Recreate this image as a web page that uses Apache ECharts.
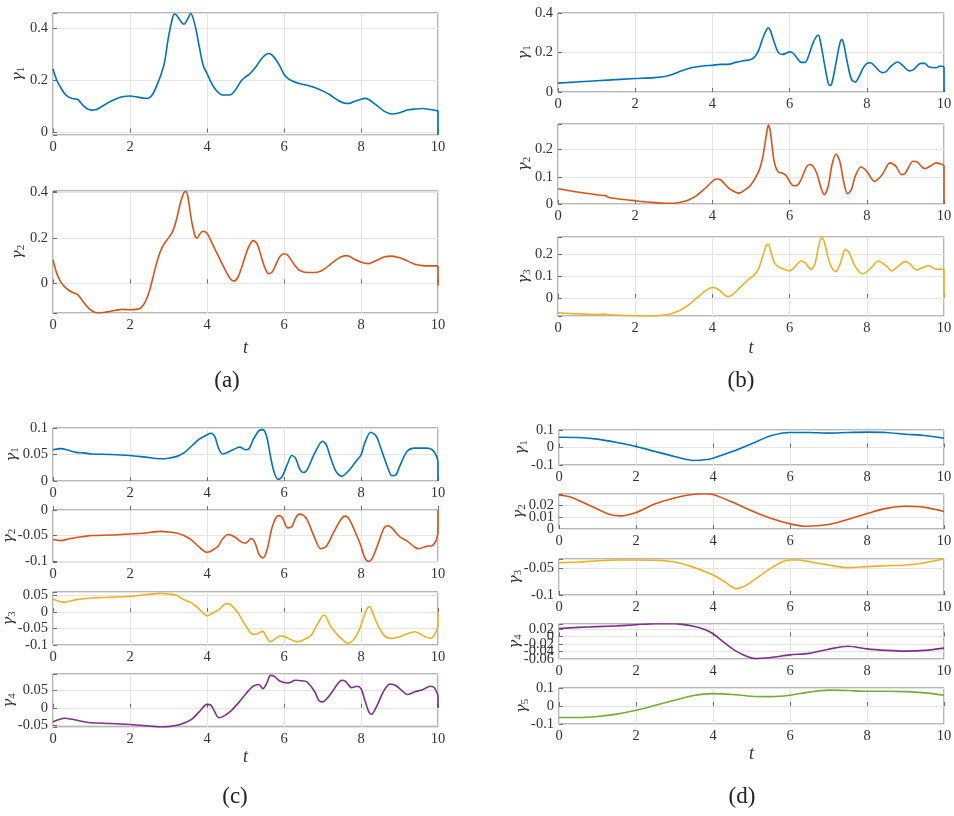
<!DOCTYPE html>
<html><head><meta charset="utf-8">
<script src="https://cdn.jsdelivr.net/npm/echarts@6/dist/echarts.min.js"></script>
<style>html,body{margin:0;padding:0;background:#fff}#c{width:954px;height:816px}</style>
</head><body><div id="c"></div>
<script>
// ---------- data: [t, gamma] pairs ----------
// Panel (a)
const a1 = [[0,0.244],[0.1,0.20],[0.2,0.173],[0.3,0.15],[0.4,0.137],[0.5,0.131],[0.6,0.128],[0.65,0.127],[0.7,0.118],[0.8,0.101],[0.9,0.090],[1.0,0.086],[1.1,0.087],[1.2,0.094],[1.4,0.112],[1.6,0.127],[1.8,0.137],[2.0,0.14],[2.2,0.136],[2.4,0.131],[2.5,0.133],[2.6,0.15],[2.7,0.182],[2.8,0.22],[2.9,0.272],[3.0,0.368],[3.1,0.438],[3.15,0.456],[3.2,0.453],[3.3,0.432],[3.4,0.417],[3.5,0.438],[3.58,0.458],[3.7,0.406],[3.8,0.33],[3.9,0.259],[4.0,0.227],[4.1,0.195],[4.2,0.169],[4.3,0.153],[4.4,0.144],[4.6,0.144],[4.7,0.156],[4.8,0.178],[4.9,0.201],[5.0,0.214],[5.1,0.224],[5.2,0.24],[5.3,0.259],[5.4,0.281],[5.5,0.297],[5.6,0.304],[5.7,0.297],[5.8,0.278],[5.9,0.253],[6.0,0.224],[6.1,0.208],[6.2,0.199],[6.4,0.188],[6.6,0.182],[6.8,0.173],[7.0,0.16],[7.2,0.144],[7.4,0.124],[7.6,0.112],[7.7,0.112],[7.8,0.118],[8.0,0.128],[8.1,0.131],[8.2,0.127],[8.4,0.105],[8.6,0.082],[8.8,0.071],[9.0,0.076],[9.2,0.086],[9.4,0.09],[9.6,0.092],[9.8,0.088],[10,0.083]];
const a1End = -0.01;
const a2 = [[0,0.104],[0.1,0.043],[0.2,0.007],[0.3,-0.014],[0.4,-0.029],[0.5,-0.039],[0.6,-0.046],[0.65,-0.05],[0.7,-0.061],[0.8,-0.084],[0.9,-0.104],[1.0,-0.119],[1.1,-0.128],[1.2,-0.13],[1.4,-0.125],[1.6,-0.119],[1.8,-0.114],[2.0,-0.116],[2.2,-0.113],[2.3,-0.104],[2.4,-0.08],[2.5,-0.036],[2.6,0.029],[2.7,0.094],[2.8,0.145],[2.9,0.177],[3.0,0.2],[3.1,0.225],[3.2,0.275],[3.3,0.348],[3.4,0.399],[3.45,0.404],[3.5,0.384],[3.6,0.275],[3.7,0.203],[3.75,0.2],[3.8,0.214],[3.9,0.229],[4.0,0.22],[4.1,0.188],[4.2,0.152],[4.3,0.119],[4.4,0.084],[4.5,0.051],[4.6,0.022],[4.7,0.01],[4.8,0.026],[4.9,0.07],[5.0,0.123],[5.1,0.167],[5.2,0.188],[5.3,0.174],[5.4,0.123],[5.5,0.07],[5.6,0.043],[5.7,0.051],[5.8,0.087],[5.9,0.119],[6.0,0.13],[6.1,0.123],[6.2,0.099],[6.3,0.075],[6.4,0.058],[6.6,0.048],[6.8,0.048],[7.0,0.058],[7.2,0.083],[7.4,0.109],[7.6,0.122],[7.7,0.119],[7.8,0.109],[8.0,0.093],[8.2,0.087],[8.4,0.101],[8.6,0.116],[8.8,0.12],[9.0,0.113],[9.2,0.099],[9.4,0.084],[9.6,0.078],[9.8,0.077],[10,0.077]];
const a2End = -0.01;
// Panel (b)
const b1 = [[0,0.045],[1.0,0.057],[2.0,0.068],[2.5,0.073],[2.8,0.08],[3.0,0.092],[3.2,0.107],[3.4,0.12],[3.6,0.128],[3.8,0.133],[4.0,0.135],[4.2,0.14],[4.4,0.14],[4.6,0.15],[4.8,0.158],[5.0,0.165],[5.1,0.178],[5.2,0.212],[5.3,0.27],[5.4,0.315],[5.45,0.325],[5.5,0.312],[5.6,0.253],[5.7,0.203],[5.8,0.19],[5.9,0.195],[6.0,0.203],[6.1,0.195],[6.2,0.17],[6.3,0.15],[6.4,0.15],[6.5,0.187],[6.6,0.245],[6.7,0.283],[6.75,0.287],[6.8,0.253],[6.9,0.145],[7.0,0.045],[7.05,0.033],[7.1,0.048],[7.2,0.145],[7.3,0.245],[7.35,0.265],[7.4,0.245],[7.5,0.145],[7.6,0.065],[7.7,0.05],[7.8,0.078],[7.9,0.12],[8.0,0.145],[8.1,0.148],[8.2,0.132],[8.4,0.098],[8.5,0.103],[8.6,0.125],[8.8,0.152],[8.9,0.14],[9.1,0.107],[9.2,0.112],[9.4,0.145],[9.5,0.145],[9.6,0.128],[9.8,0.123],[9.9,0.132],[10,0.128]];
const b1End = 0;
const b2 = [[0,0.056],[0.5,0.044],[1.0,0.034],[1.2,0.031],[1.25,0.030],[1.3,0.025],[1.5,0.02],[2.0,0.012],[2.5,0.005],[2.8,0.0025],[3.0,0.0025],[3.2,0.007],[3.4,0.016],[3.6,0.032],[3.8,0.056],[4.0,0.083],[4.1,0.092],[4.2,0.09],[4.4,0.061],[4.6,0.043],[4.7,0.04],[4.8,0.047],[5.0,0.071],[5.2,0.12],[5.3,0.169],[5.4,0.255],[5.45,0.29],[5.5,0.267],[5.6,0.157],[5.7,0.118],[5.8,0.114],[5.9,0.106],[6.0,0.083],[6.1,0.067],[6.2,0.069],[6.3,0.09],[6.45,0.139],[6.55,0.145],[6.7,0.114],[6.8,0.065],[6.9,0.034],[7.0,0.065],[7.1,0.145],[7.2,0.184],[7.3,0.157],[7.4,0.083],[7.5,0.038],[7.6,0.053],[7.7,0.102],[7.85,0.136],[8.0,0.12],[8.2,0.083],[8.4,0.108],[8.6,0.151],[8.75,0.139],[8.9,0.108],[9.0,0.114],[9.2,0.157],[9.3,0.155],[9.5,0.13],[9.6,0.135],[9.8,0.151],[10,0.142]];
const b2End = 0;
const b3 = [[0,-0.068],[0.5,-0.073],[1.0,-0.076],[1.25,-0.074],[1.3,-0.077],[2.0,-0.082],[2.4,-0.083],[2.8,-0.077],[3.0,-0.068],[3.2,-0.053],[3.4,-0.03],[3.6,0],[3.8,0.03],[4.0,0.048],[4.1,0.045],[4.2,0.033],[4.4,0.006],[4.5,0.012],[4.7,0.045],[4.9,0.079],[5.1,0.109],[5.2,0.136],[5.3,0.189],[5.4,0.242],[5.45,0.247],[5.5,0.22],[5.6,0.164],[5.7,0.144],[5.9,0.129],[6.0,0.124],[6.1,0.136],[6.3,0.17],[6.4,0.162],[6.55,0.132],[6.65,0.152],[6.75,0.235],[6.83,0.278],[6.9,0.258],[7.0,0.182],[7.1,0.136],[7.2,0.121],[7.3,0.152],[7.45,0.223],[7.55,0.205],[7.7,0.144],[7.9,0.111],[8.1,0.136],[8.3,0.17],[8.5,0.148],[8.65,0.124],[8.8,0.144],[9.0,0.167],[9.1,0.159],[9.3,0.129],[9.4,0.136],[9.6,0.148],[9.8,0.132],[10,0.132]];
const b3End = 0;
// Panel (c)
const c1 = [[0,0.059],[0.2,0.061],[0.4,0.058],[0.6,0.054],[0.8,0.053],[1.0,0.051],[1.5,0.05],[2.0,0.048],[2.4,0.045],[2.8,0.042],[3.0,0.043],[3.2,0.046],[3.4,0.053],[3.6,0.066],[3.8,0.079],[4.0,0.087],[4.1,0.09],[4.2,0.084],[4.3,0.062],[4.4,0.051],[4.5,0.053],[4.7,0.06],[4.85,0.064],[5.0,0.059],[5.1,0.062],[5.2,0.078],[5.35,0.095],[5.45,0.097],[5.55,0.084],[5.65,0.046],[5.75,0.015],[5.85,0.003],[5.95,0.008],[6.1,0.034],[6.2,0.048],[6.3,0.043],[6.4,0.024],[6.5,0.016],[6.6,0.021],[6.8,0.053],[7.0,0.075],[7.1,0.068],[7.2,0.046],[7.35,0.018],[7.5,0.009],[7.7,0.021],[7.9,0.04],[8.0,0.049],[8.1,0.072],[8.25,0.092],[8.4,0.084],[8.5,0.065],[8.7,0.024],[8.8,0.01],[8.9,0.011],[9.0,0.027],[9.2,0.056],[9.4,0.062],[9.7,0.062],[9.85,0.059],[9.95,0.049],[10,0.037]];
const c1End = 0;
const c2 = [[0,-0.058],[0.2,-0.06],[0.4,-0.057],[0.6,-0.054],[0.8,-0.052],[1.0,-0.05],[1.5,-0.049],[2.0,-0.047],[2.4,-0.045],[2.8,-0.042],[3.0,-0.043],[3.2,-0.045],[3.4,-0.05],[3.6,-0.059],[3.8,-0.073],[4.0,-0.083],[4.1,-0.081],[4.2,-0.076],[4.3,-0.07],[4.4,-0.057],[4.55,-0.048],[4.7,-0.052],[4.9,-0.063],[5.0,-0.065],[5.15,-0.056],[5.25,-0.065],[5.35,-0.087],[5.45,-0.094],[5.55,-0.081],[5.7,-0.032],[5.85,-0.011],[5.95,-0.014],[6.1,-0.035],[6.2,-0.033],[6.3,-0.016],[6.4,-0.008],[6.5,-0.01],[6.6,-0.019],[6.8,-0.055],[6.95,-0.076],[7.1,-0.071],[7.3,-0.042],[7.5,-0.016],[7.6,-0.012],[7.7,-0.019],[7.9,-0.052],[8.0,-0.071],[8.1,-0.094],[8.2,-0.101],[8.3,-0.094],[8.45,-0.065],[8.6,-0.035],[8.7,-0.031],[8.8,-0.035],[9.0,-0.052],[9.2,-0.061],[9.4,-0.073],[9.5,-0.076],[9.7,-0.071],[9.85,-0.07],[9.95,-0.06],[10,-0.045]];
const c2End = 0;
const c3 = [[0,0.039],[0.3,0.029],[0.6,0.037],[1.0,0.042],[2.0,0.047],[2.8,0.056],[3.0,0.054],[3.2,0.05],[3.4,0.037],[3.6,0.027],[3.8,0.008],[4.0,-0.012],[4.1,-0.007],[4.2,0],[4.3,0.005],[4.5,0.025],[4.6,0.023],[4.8,-0.002],[5.0,-0.041],[5.2,-0.068],[5.3,-0.066],[5.45,-0.059],[5.55,-0.077],[5.65,-0.09],[5.75,-0.083],[5.9,-0.073],[6.0,-0.074],[6.2,-0.085],[6.35,-0.09],[6.5,-0.085],[6.7,-0.071],[6.85,-0.041],[7.0,-0.012],[7.05,-0.01],[7.2,-0.041],[7.4,-0.071],[7.55,-0.087],[7.65,-0.095],[7.8,-0.085],[7.95,-0.056],[8.1,-0.007],[8.2,0.015],[8.25,0.013],[8.4,-0.031],[8.6,-0.071],[8.8,-0.08],[9.0,-0.075],[9.2,-0.066],[9.4,-0.06],[9.6,-0.071],[9.8,-0.08],[9.9,-0.071],[10,-0.045]];
const c3End = 0;
const c4 = [[0,-0.04],[0.2,-0.032],[0.3,-0.03],[0.5,-0.033],[0.8,-0.04],[1.0,-0.043],[1.5,-0.045],[2.0,-0.048],[2.5,-0.052],[2.8,-0.055],[3.0,-0.054],[3.3,-0.048],[3.6,-0.033],[3.8,-0.011],[4.0,0.01],[4.1,0.008],[4.2,-0.011],[4.3,-0.028],[4.4,-0.026],[4.6,-0.011],[4.8,0.012],[5.0,0.039],[5.2,0.062],[5.35,0.067],[5.45,0.055],[5.55,0.07],[5.65,0.093],[5.75,0.09],[5.9,0.076],[6.1,0.071],[6.3,0.079],[6.5,0.077],[6.6,0.074],[6.8,0.046],[6.9,0.022],[7.0,0.017],[7.2,0.038],[7.4,0.07],[7.5,0.079],[7.6,0.076],[7.75,0.058],[7.9,0.062],[8.0,0.055],[8.1,0.022],[8.2,-0.011],[8.27,-0.019],[8.4,0.003],[8.6,0.05],[8.75,0.068],[8.9,0.064],[9.1,0.046],[9.2,0.038],[9.4,0.046],[9.6,0.052],[9.8,0.062],[9.9,0.058],[10,0.036]];
const c4End = 0;
// Panel (d)
const d1 = [[0,0.059],[0.5,0.057],[1.0,0.048],[1.5,0.029],[2.0,0.006],[2.5,-0.023],[3.0,-0.051],[3.5,-0.074],[3.8,-0.07],[4.0,-0.061],[4.5,-0.023],[5.0,0.021],[5.5,0.067],[6.0,0.086],[6.5,0.086],[7.0,0.082],[7.5,0.086],[8.0,0.088],[8.5,0.086],[9.0,0.076],[9.5,0.069],[10,0.053]];
const d2 = [[0,0.0288],[0.3,0.0274],[0.6,0.023],[1.0,0.017],[1.3,0.0126],[1.6,0.0112],[2.0,0.0141],[2.5,0.0215],[3.0,0.0265],[3.5,0.0297],[3.8,0.0302],[4.0,0.0294],[4.5,0.023],[5.0,0.0156],[5.5,0.0091],[6.0,0.0044],[6.4,0.0024],[7.0,0.0038],[7.5,0.0082],[8.0,0.0132],[8.5,0.0176],[9.0,0.0194],[9.5,0.0185],[10,0.015]];
const d3 = [[0,-0.0386],[0.5,-0.0373],[1.0,-0.0348],[1.5,-0.0335],[2.0,-0.0335],[2.5,-0.034],[3.0,-0.0373],[3.5,-0.0475],[4.0,-0.062],[4.3,-0.0747],[4.6,-0.088],[4.8,-0.084],[5.0,-0.0747],[5.5,-0.0494],[5.8,-0.0367],[6.0,-0.0335],[6.2,-0.0335],[6.5,-0.0367],[7.0,-0.043],[7.5,-0.048],[8.0,-0.046],[8.5,-0.0443],[9.0,-0.043],[9.5,-0.0386],[10,-0.0316]];
const d4 = [[0,0.021],[0.5,0.024],[1.0,0.026],[1.5,0.028],[2.0,0.031],[2.5,0.034],[3.0,0.034],[3.5,0.027],[3.8,0.018],[4.0,0.007],[4.3,-0.017],[4.6,-0.039],[4.9,-0.054],[5.1,-0.059],[5.5,-0.056],[6.0,-0.049],[6.5,-0.045],[7.0,-0.034],[7.5,-0.026],[8.0,-0.033],[8.5,-0.037],[9.0,-0.039],[9.5,-0.037],[10,-0.031]];
const d5 = [[0,-0.064],[0.5,-0.064],[1.0,-0.058],[1.5,-0.045],[2.0,-0.024],[2.5,0.004],[3.0,0.032],[3.5,0.058],[4.0,0.069],[4.5,0.064],[5.0,0.054],[5.5,0.052],[6.0,0.06],[6.5,0.077],[7.0,0.088],[7.5,0.086],[8.0,0.082],[8.5,0.082],[9.0,0.08],[9.5,0.073],[10,0.06]];
// x ticks and figure labels
const xTicks = [0, 2, 4, 6, 8, 10];
const panelLabels = ['(a)', '(b)', '(c)', '(d)'];

// ---------- styling / layout ----------
const COL = {b:'#0072BD', o:'#D95319', y:'#EDB120', p:'#7E2F8E', g:'#77AC30'};
const FONT = 'Liberation Serif';
const BOX = '#6e6e6e';
const TXT = '#333333';
const plots = [
  {box:[53,13,385,122],  d:a1, end:a1End, c:COL.b, k:'1', min:-0.01, max:0.46,  step:0.2,  ng:26},
  {box:[53,191,385,122], d:a2, end:a2End, c:COL.o, k:'2', min:-0.13, max:0.406, step:0.2,  ng:26, t:26},
  {box:[558,13,386,79],  d:b1, end:b1End, c:COL.b, k:'1', min:0, max:0.4,      step:0.2,  ng:25},
  {box:[558,124,386,80], d:b2, end:b2End, c:COL.o, k:'2', min:0, max:0.294,    step:0.1,  ng:25},
  {box:[558,237,386,79], d:b3, end:b3End, c:COL.y, k:'3', min:-0.083, max:0.28, step:0.1, ng:25, t:23},
  {box:[53,428,385,53],  d:c1, end:c1End, c:COL.b, k:'1', min:0, max:0.1,      step:0.05, ng:32},
  {box:[53,510,385,52],  d:c2, end:c2End, c:COL.o, k:'2', min:-0.102, max:0,   step:0.05, ng:35},
  {box:[53,592,385,53],  d:c3, end:c3End, c:COL.y, k:'3', min:-0.1, max:0.06,  step:0.05, ng:35},
  {box:[53,674,385,53],  d:c4, end:c4End, c:COL.p, k:'4', min:-0.055, max:0.097, step:0.05, ng:35, t:21},
  {box:[559,430,385,35], d:d1, c:COL.b, k:'1', min:-0.1, max:0.1,     step:0.1,  ng:29},
  {box:[559,494,385,35], d:d2, c:COL.o, k:'2', min:0, max:0.0299,     step:0.01, ng:31, minAxis:true},
  {box:[559,559,385,36], d:d3, c:COL.y, k:'3', min:-0.1, max:-0.0316, step:0.05, ng:35},
  {box:[559,624,385,35], d:d4, c:COL.p, k:'4', min:-0.06, max:0.033,  step:0.02, ng:35, minAxis:true},
  {box:[559,688,385,36], d:d5, c:COL.g, k:'5', min:-0.1, max:0.1,     step:0.1,  ng:28, t:20}
];

const fmt = step => v => {
  const q = v / step;
  return Math.abs(q - Math.round(q)) < 1e-6 ? String(+v.toFixed(4)) : '';
};
const labelStyle = {fontFamily:FONT, fontSize:14.5, color:TXT, margin:5, hideOverlap:false};

const grid = [], xAxis = [], yAxis = [], series = [];
plots.forEach((p, i) => {
  grid.push({left:p.box[0], top:p.box[1], width:p.box[2], height:p.box[3], show:true,
             borderColor:BOX, borderWidth:1, backgroundColor:'transparent',
             containLabel:false, outerBoundsMode:'none'});
  xAxis.push({
    type:'value', gridIndex:i, min:xTicks[0], max:xTicks[xTicks.length-1], interval:xTicks[1]-xTicks[0],
    axisLine:{show:false}, axisTick:{show:true, inside:true, length:4, lineStyle:{color:BOX}},
    axisLabel:{fontFamily:FONT, fontSize:14.5, color:TXT, margin:5, showMinLabel:true, showMaxLabel:true},
    splitLine:{show:true, lineStyle:{color:'#e4e4e4', width:1}},
    name: p.t ? 't' : '', nameLocation:'middle', nameGap: p.t || 0,
    nameTextStyle:{fontFamily:FONT, fontStyle:'italic', fontSize:18, color:TXT}
  });
  const yi = yAxis.length;
  yAxis.push({
    type:'value', gridIndex:i, min:p.min, max:p.max, minInterval:p.step, maxInterval:p.step,
    axisLine:{show:false}, axisTick:{show:true, inside:true, length:4, lineStyle:{color:BOX}},
    axisLabel:Object.assign({formatter:fmt(p.step)}, labelStyle, p.minAxis ? {showMinLabel:false} : {}),
    splitLine:{show:true, lineStyle:{color:'#e4e4e4', width:1}},
    name:'{g|γ}{s|' + p.k + '}', nameLocation:'middle', nameRotate:90, nameGap:p.ng,
    nameMoveOverlap:false,
    nameTextStyle:{color:TXT, rich:{
      g:{fontFamily:'DejaVu Serif', fontStyle:'italic', fontSize:15, color:TXT, lineHeight:18},
      s:{fontFamily:FONT, fontSize:11, color:TXT, verticalAlign:'bottom', lineHeight:12}
    }}
  });
  if (p.minAxis) {
    // companion axis on the same scale that only shows the bottom tick label
    yAxis.push({
      type:'value', gridIndex:i, position:'left', min:p.min, max:p.max, minInterval:p.step, maxInterval:p.step,
      axisLine:{show:false}, axisTick:{show:false}, splitLine:{show:false},
      axisLabel:Object.assign({}, labelStyle, {showMinLabel:true, showMaxLabel:false,
        formatter: v => Math.abs(v - p.min) < 1e-9 ? String(+v.toFixed(4)) : ''})
    });
  }
  series.push({type:'line', xAxisIndex:i, yAxisIndex:yi, data:p.d, showSymbol:false, smooth:0.3,
               lineStyle:{width:1.6, color:p.c}, itemStyle:{color:p.c}, clip:true});
  if (p.end !== undefined) {
    series.push({type:'line', xAxisIndex:i, yAxisIndex:yi, showSymbol:false,
                 data:[p.d[p.d.length-1], [p.d[p.d.length-1][0], p.end]],
                 lineStyle:{width:1.6, color:p.c}, itemStyle:{color:p.c}});
  }
});

const labelPos = [[227,381],[741,381],[235,797],[742,797]];
const graphic = panelLabels.map((s, i) => ({
  type:'text', x:labelPos[i][0], y:labelPos[i][1],
  style:{text:s, font:'23px "Liberation Serif"', fill:'#222', align:'center', verticalAlign:'middle'}
}));

const chart = echarts.init(document.getElementById('c'));
chart.setOption({animation:false, grid, xAxis, yAxis, series, graphic});
</script></body></html>
